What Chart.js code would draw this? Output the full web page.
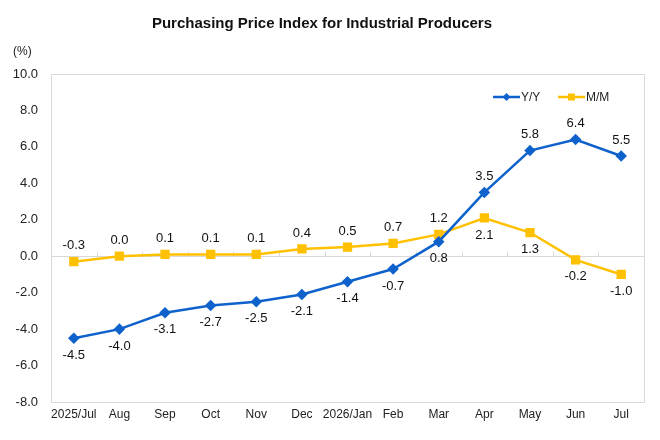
<!DOCTYPE html>
<html>
<head>
<meta charset="utf-8">
<script src="https://cdn.jsdelivr.net/npm/chart.js@4/dist/chart.umd.min.js"></script>
<style>
  body { margin: 0; background: #fff; }
  #wrap { width: 660px; height: 440px; }
</style>
</head>
<body>
<div id="wrap"><canvas id="ppiChart"></canvas></div>
<script>
const months = ['2025/Jul', 'Aug', 'Sep', 'Oct', 'Nov', 'Dec', '2026/Jan', 'Feb', 'Mar', 'Apr', 'May', 'Jun', 'Jul'];
const yoy = [-4.5, -4.0, -3.1, -2.7, -2.5, -2.1, -1.4, -0.7, 0.8, 3.5, 5.8, 6.4, 5.5];
const mom = [-0.3, 0.0, 0.1, 0.1, 0.1, 0.4, 0.5, 0.7, 1.2, 2.1, 1.3, -0.2, -1.0];
const yTicks = [10, 8, 6, 4, 2, 0, -2, -4, -6, -8];

const blue = '#0f62cc';
const yellow = '#ffc000';
const frameColor = '#d9d9d9';
const labelFont = '13px "Liberation Sans", Arial, sans-serif';

// after the lines cross (Mar), the labels swap sides
const crossIndex = 8;

const chartDecor = {
    id: 'chartDecor',
    beforeDatasetsDraw(chart) {
        const { ctx, chartArea: a, scales } = chart;
        ctx.save();
        ctx.strokeStyle = frameColor;
        ctx.lineWidth = 1;
        ctx.strokeRect(a.left + 0.5, a.top + 0.5, a.right - a.left, a.bottom - a.top);
        // small ticks between categories on the zero line
        const zeroY = Math.round(scales.y.getPixelForValue(0)) + 0.5;
        const half = (scales.x.getPixelForValue(1) - scales.x.getPixelForValue(0)) / 2;
        ctx.beginPath();
        for (let i = 1; i < months.length; i++) {
            const x = Math.round(scales.x.getPixelForValue(i) - half) + 0.5;
            ctx.moveTo(x, zeroY - 5);
            ctx.lineTo(x, zeroY);
        }
        ctx.stroke();
        ctx.fillStyle = '#222';
        ctx.font = '12px "Liberation Sans", Arial, sans-serif';
        ctx.textAlign = 'left';
        ctx.textBaseline = 'middle';
        ctx.fillText('(%)', 13, 52);
        ctx.restore();
    },
    afterDatasetsDraw(chart) {
        const { ctx } = chart;
        ctx.save();
        ctx.font = labelFont;
        ctx.fillStyle = '#111';
        ctx.textAlign = 'center';
        ctx.textBaseline = 'middle';
        chart.data.datasets.forEach((ds, di) => {
            const meta = chart.getDatasetMeta(di);
            meta.data.forEach((pt, i) => {
                let below = i <= crossIndex;
                if (di === 1) below = !below;
                const dy = below ? 17 : -16;
                ctx.fillText(ds.data[i].toFixed(1), pt.x, pt.y + dy);
            });
        });
        // legend
        let x = 493;
        const y = 97;
        ctx.font = '12px "Liberation Sans", Arial, sans-serif';
        ctx.textAlign = 'left';
        chart.data.datasets.forEach((ds) => {
            ctx.strokeStyle = ds.borderColor;
            ctx.fillStyle = ds.borderColor;
            ctx.lineWidth = 2.5;
            ctx.beginPath();
            ctx.moveTo(x, y);
            ctx.lineTo(x + 27, y);
            ctx.stroke();
            const cx = x + 13.5;
            ctx.beginPath();
            if (ds.pointStyle === 'rectRot') {
                ctx.moveTo(cx, y - 4);
                ctx.lineTo(cx + 4, y);
                ctx.lineTo(cx, y + 4);
                ctx.lineTo(cx - 4, y);
                ctx.closePath();
            } else {
                ctx.rect(cx - 3.5, y - 3.5, 7, 7);
            }
            ctx.fill();
            ctx.fillStyle = '#222';
            ctx.fillText(ds.label, x + 28, y + 1);
            x += 65;
        });
        ctx.restore();
    }
};

new Chart(document.getElementById('ppiChart'), {
    type: 'line',
    data: {
        labels: months,
        datasets: [{
            label: 'Y/Y',
            data: yoy,
            borderColor: blue,
            backgroundColor: blue,
            borderWidth: 2.5,
            pointStyle: 'rectRot',
            pointRadius: 4,
            pointHoverRadius: 4,
            tension: 0
        }, {
            label: 'M/M',
            data: mom,
            borderColor: yellow,
            backgroundColor: yellow,
            borderWidth: 2.5,
            pointStyle: 'rect',
            pointRadius: 4.8,
            pointHoverRadius: 4.8,
            tension: 0
        }]
    },
    options: {
        responsive: true,
        maintainAspectRatio: false,
        animation: false,
        layout: {
            padding: { left: 0, right: 16, top: 0, bottom: 0 }
        },
        plugins: {
            legend: { display: false },
            tooltip: { enabled: false },
            title: {
                display: true,
                text: 'Purchasing Price Index for Industrial Producers',
                color: '#111',
                font: { family: '"Liberation Sans", Arial, sans-serif', size: 15, weight: 'bold' },
                padding: { top: 15, bottom: 41 }
            }
        },
        scales: {
            x: {
                offset: true,
                grid: { display: false, drawTicks: false },
                border: { color: frameColor },
                ticks: {
                    color: '#222',
                    padding: 5,
                    maxRotation: 0,
                    autoSkip: false,
                    font: { family: '"Liberation Sans", Arial, sans-serif', size: 12 }
                },
                afterFit(scale) { scale.height = 38; }
            },
            y: {
                min: -8,
                max: 10,
                afterBuildTicks(scale) {
                    scale.ticks = yTicks.map(v => ({ value: v }));
                },
                grid: {
                    drawTicks: false,
                    color: (c) => c.tick && c.tick.value === 0 ? frameColor : 'transparent'
                },
                border: { color: frameColor },
                ticks: {
                    color: '#222',
                    padding: 13,
                    font: { family: '"Liberation Sans", Arial, sans-serif', size: 13 },
                    callback: (v) => Number(v).toFixed(1)
                },
                afterFit(scale) { scale.width = 51; }
            }
        }
    },
    plugins: [chartDecor]
});
</script>
</body>
</html>
